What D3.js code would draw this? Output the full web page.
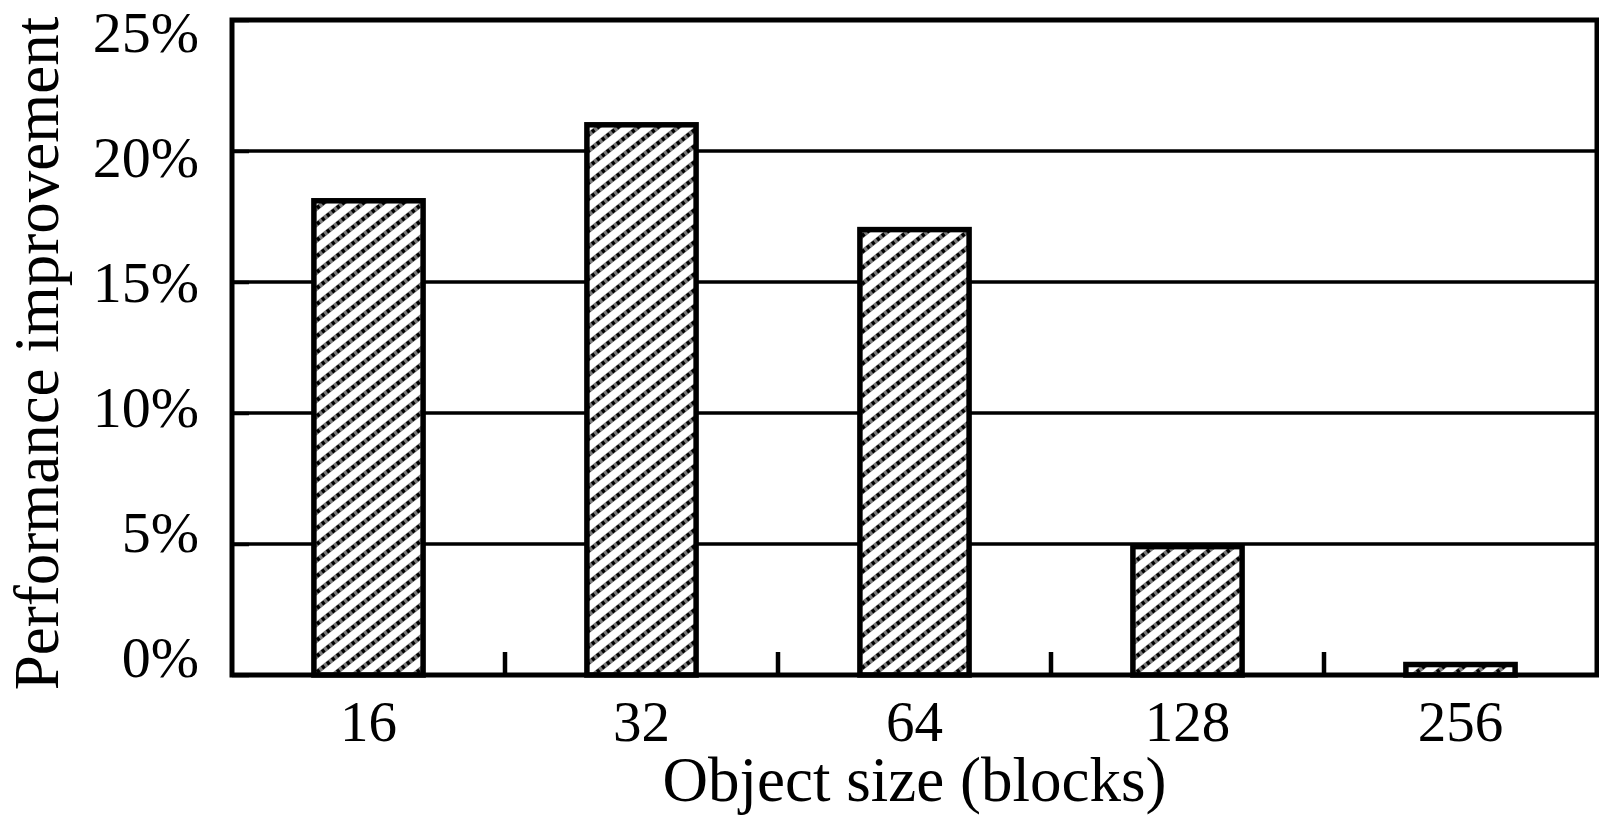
<!DOCTYPE html>
<html>
<head>
<meta charset="utf-8">
<script src="https://cdn.jsdelivr.net/npm/d3@7"></script>
<style>
  html, body { margin: 0; padding: 0; background: #fff; }
  svg { display: block; }
  text { font-family: "Liberation Serif", "Times New Roman", serif; fill: #000; }
</style>
</head>
<body>
<svg id="chart" width="1599" height="816"></svg>
<script>
// Object sizes (in blocks) and the measured performance improvement (%)
const categories = ["16", "32", "64", "128", "256"];
const improvement = [18.1, 21.0, 17.0, 4.9, 0.4];
const yTicks = [0, 5, 10, 15, 20, 25];
const yTickLabels = ["0%", "5%", "10%", "15%", "20%", "25%"];
const xTitle = "Object size (blocks)";
const yTitle = "Performance improvement";

const W = 1599, H = 816;
const margin = { top: 20, right: 2, bottom: 141, left: 232 };
const innerW = W - margin.left - margin.right;
const innerH = H - margin.top - margin.bottom;

const svg = d3.select("#chart");

// Diagonal hatch fill for the bars (dotted dark stripes on white)
const PW = 20, PH = 16;
const defs = svg.append("defs");
const pat = defs.append("pattern")
  .attr("id", "hatch")
  .attr("patternUnits", "userSpaceOnUse")
  .attr("width", PW).attr("height", PH);
pat.append("rect").attr("width", PW).attr("height", PH).attr("fill", "#fff");
const stripe = `M${-PW},${PH} L${PW},${-PH} M0,${PH} L${PW},0 M0,${2 * PH} L${2 * PW},0`;
pat.append("path")
  .attr("d", stripe)
  .attr("stroke", "#7a7a7a").attr("stroke-width", 4.8);
pat.append("path")
  .attr("d", stripe)
  .attr("stroke", "#000").attr("stroke-width", 3.6)
  .attr("stroke-dasharray", "3.2 3.2");

const g = svg.append("g").attr("transform", `translate(${margin.left},${margin.top})`);

const x = d3.scaleBand()
  .domain(categories)
  .range([0, innerW])
  .paddingInner(0.6)
  .paddingOuter(0.3);

const y = d3.scaleLinear().domain([0, 25]).range([innerH, 0]);
// Tick labels sit on a slightly tighter spacing than the gridlines
const yLabel = d3.scaleLinear().domain([0, 25]).range([innerH - 17, 13]);

// Horizontal gridlines
g.append("g")
  .selectAll("line")
  .data(yTicks.filter(d => d > 0 && d < 25))
  .join("line")
  .attr("x1", 0).attr("x2", innerW)
  .attr("y1", d => y(d)).attr("y2", d => y(d))
  .attr("stroke", "#000").attr("stroke-width", 3.5);

// Bars
g.append("g")
  .selectAll("rect")
  .data(improvement)
  .join("rect")
  .attr("x", (d, i) => x(categories[i]))
  .attr("width", x.bandwidth())
  .attr("y", d => y(d))
  .attr("height", d => y(0) - y(d))
  .attr("fill", "url(#hatch)")
  .attr("stroke", "#000")
  .attr("stroke-width", 5.5);

// Y axis with inward ticks
const yAxis = d3.axisLeft(y)
  .tickValues(yTicks)
  .tickFormat((d, i) => yTickLabels[i])
  .tickSizeInner(-17)
  .tickSizeOuter(0)
  .tickPadding(33);
const ya = g.append("g").call(yAxis);
ya.select(".domain").remove();
ya.selectAll(".tick line").attr("stroke", "#000").attr("stroke-width", 3.5);
ya.selectAll(".tick text")
  .attr("font-size", 58)
  .attr("font-family", "Liberation Serif, serif")
  .attr("fill", "#000")
  .attr("y", d => yLabel(d) - y(d));

// Category separator ticks along the bottom, pointing inward
const sepTicks = categories.slice(1).map(c => x(c) - x.step() * x.paddingInner() / 2);
g.append("g")
  .selectAll("line")
  .data(sepTicks)
  .join("line")
  .attr("x1", d => d).attr("x2", d => d)
  .attr("y1", innerH).attr("y2", innerH - 23)
  .attr("stroke", "#000").attr("stroke-width", 4.5);

// X axis labels at bar centers
const xAxis = d3.axisBottom(x).tickSize(0).tickPadding(0);
const xa = g.append("g").attr("transform", `translate(0,${innerH})`).call(xAxis);
xa.select(".domain").remove();
xa.selectAll(".tick text")
  .attr("font-size", 57)
  .attr("font-family", "Liberation Serif, serif")
  .attr("fill", "#000")
  .attr("dy", null)
  .attr("y", 66);

// Plot frame
g.append("rect")
  .attr("x", 0).attr("y", 0)
  .attr("width", innerW).attr("height", innerH)
  .attr("fill", "none")
  .attr("stroke", "#000")
  .attr("stroke-width", 5);

// Axis titles
svg.append("text")
  .attr("x", margin.left + innerW / 2)
  .attr("y", 801)
  .attr("text-anchor", "middle")
  .attr("font-size", 63)
  .text(xTitle);

svg.append("text")
  .attr("transform", `translate(58,${margin.top + innerH / 2 + 6}) rotate(-90)`)
  .attr("text-anchor", "middle")
  .attr("font-size", 63)
  .text(yTitle);
</script>
</body>
</html>
